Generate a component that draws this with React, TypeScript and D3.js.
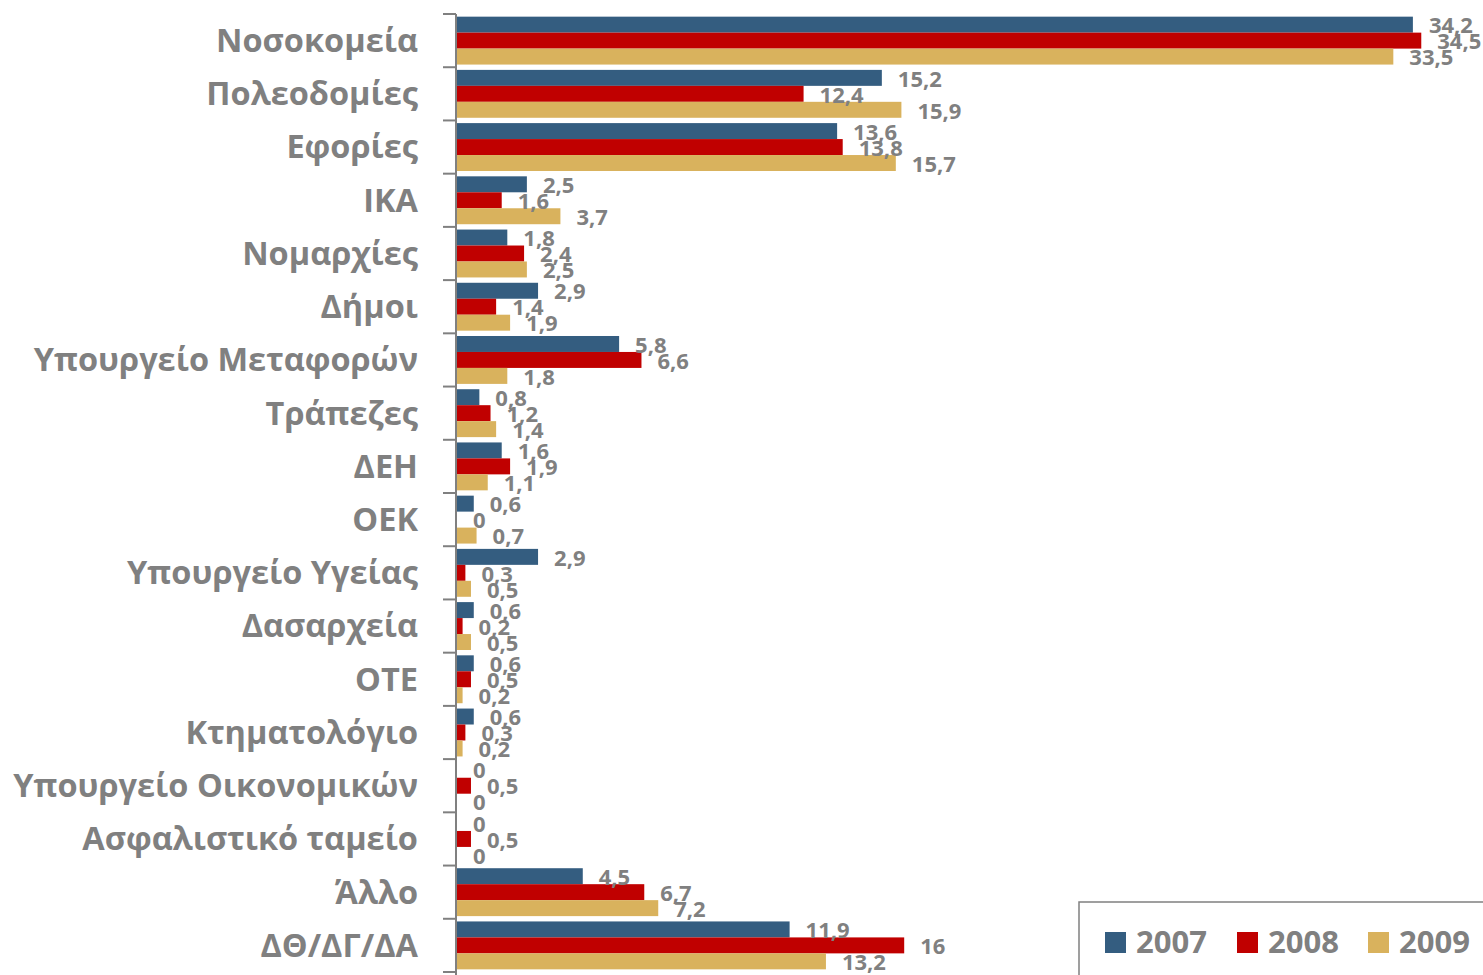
import { useEffect, useRef } from "react";
import * as d3 from "d3";

// categories (top to bottom)
const categories: string[] = [
  "Νοσοκομεία",
  "Πολεοδομίες",
  "Εφορίες",
  "ΙΚΑ",
  "Νομαρχίες",
  "Δήμοι",
  "Υπουργείο Μεταφορών",
  "Τράπεζες",
  "ΔΕΗ",
  "ΟΕΚ",
  "Υπουργείο Υγείας",
  "Δασαρχεία",
  "ΟΤΕ",
  "Κτηματολόγιο",
  "Υπουργείο Οικονομικών",
  "Ασφαλιστικό ταμείο",
  "Άλλο",
  "ΔΘ/ΔΓ/ΔΑ",
];

const years = ["2007", "2008", "2009"];

const values2007 = [34.2, 15.2, 13.6, 2.5, 1.8, 2.9, 5.8, 0.8, 1.6, 0.6, 2.9, 0.6, 0.6, 0.6, 0, 0, 4.5, 11.9];
const values2008 = [34.5, 12.4, 13.8, 1.6, 2.4, 1.4, 6.6, 1.2, 1.9, 0, 0.3, 0.2, 0.5, 0.3, 0.5, 0.5, 6.7, 16];
const values2009 = [33.5, 15.9, 15.7, 3.7, 2.5, 1.9, 1.8, 1.4, 1.1, 0.7, 0.5, 0.5, 0.2, 0.2, 0, 0, 7.2, 13.2];

const colors = ["#345d80", "#c00000", "#d9b25d"];
const gray = "#808080";
const font = "'Open Sans', sans-serif";

export default function App() {
  const svgRef = useRef(null);

  useEffect(() => {
    document.body.style.margin = "0";
    const width = 1483;
    const height = 975;
    const svg = d3.select(svgRef.current).attr("width", width).attr("height", height);
    svg.selectAll("*").remove();

    const axisX = 456;
    const top = 14;
    const bottom = 972;

    const y = d3
      .scaleBand()
      .domain(categories)
      .range([top, bottom])
      .paddingInner(0.1)
      .paddingOuter(0.05);
    const sub = d3.scaleBand().domain(years).range([0, y.bandwidth()]);
    const x = d3.scaleLinear().domain([0, 36]).range([axisX + 1, axisX + 1 + 36 * 27.95]);

    const series = [values2007, values2008, values2009];
    const rows = categories.flatMap((c, i) =>
      years.map((yr, j) => ({ cat: c, year: yr, j, v: series[j][i] }))
    );

    svg
      .append("g")
      .selectAll("rect")
      .data(rows)
      .join("rect")
      .attr("x", x(0))
      .attr("y", (d) => (y(d.cat) || 0) + (sub(d.year) || 0))
      .attr("width", (d) => x(d.v) - x(0))
      .attr("height", sub.bandwidth())
      .attr("fill", (d) => colors[d.j]);

    svg
      .append("g")
      .selectAll("text")
      .data(rows)
      .join("text")
      .attr("x", (d) => x(d.v) + 16)
      .attr("y", (d) => (y(d.cat) || 0) + (sub(d.year) || 0) + sub.bandwidth() / 2 + 1)
      .attr("dy", "0.35em")
      .attr("font-family", font)
      .attr("font-weight", 700)
      .attr("font-size", 22)
      .attr("fill", gray)
      .text((d) => String(d.v).replace(".", ","));

    // y axis line + ticks at category boundaries
    const step = y.step();
    const bounds = d3.range(categories.length + 1).map((i) => top + i * step);
    svg
      .append("line")
      .attr("x1", axisX)
      .attr("x2", axisX)
      .attr("y1", top)
      .attr("y2", height)
      .attr("stroke", gray)
      .attr("stroke-width", 2);
    svg
      .append("g")
      .selectAll("line")
      .data(bounds)
      .join("line")
      .attr("x1", axisX - 13)
      .attr("x2", axisX)
      .attr("y1", (d) => d)
      .attr("y2", (d) => d)
      .attr("stroke", gray)
      .attr("stroke-width", 2);

    svg
      .append("g")
      .selectAll("text")
      .data(categories)
      .join("text")
      .attr("x", 418)
      .attr("y", (d) => (y(d) || 0) + y.bandwidth() / 2)
      .attr("dy", "0.35em")
      .attr("text-anchor", "end")
      .attr("font-family", font)
      .attr("font-weight", 700)
      .attr("font-size", 32.5)
      .attr("fill", gray)
      .text((d) => d);

    // legend
    const lg = svg.append("g");
    lg.append("rect")
      .attr("x", 1079)
      .attr("y", 902)
      .attr("width", 420)
      .attr("height", 100)
      .attr("fill", "white")
      .attr("stroke", gray)
      .attr("stroke-width", 1.5);
    const legendX = [1105, 1237, 1368];
    years.forEach((yr, j) => {
      lg.append("rect")
        .attr("x", legendX[j])
        .attr("y", 932)
        .attr("width", 21)
        .attr("height", 21)
        .attr("fill", colors[j]);
      lg.append("text")
        .attr("x", legendX[j] + 31)
        .attr("y", 942)
        .attr("dy", "0.35em")
        .attr("font-family", font)
        .attr("font-weight", 700)
        .attr("font-size", 31)
        .attr("fill", gray)
        .text(yr);
    });
  }, []);

  return <svg ref={svgRef}></svg>;
}
